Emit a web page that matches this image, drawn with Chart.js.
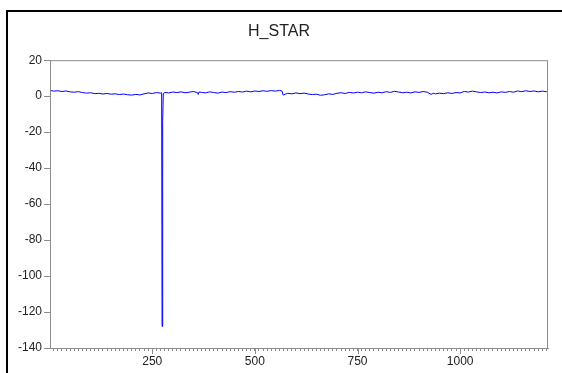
<!DOCTYPE html>
<html>
<head>
<meta charset="utf-8">
<script src="https://cdn.jsdelivr.net/npm/chart.js@4"></script>
<style>
  html, body { margin: 0; padding: 0; background: #fff; }
  #wrap { position: relative; width: 562px; height: 373px; overflow: hidden; }
  #frame { position: absolute; left: 6px; top: 10px; width: 600px; height: 400px;
           border-left: 2px solid #000; border-top: 2px solid #000; pointer-events: none; }
</style>
</head>
<body>
<div id="wrap">
  <canvas id="myChart"></canvas>
  <div id="frame"></div>
</div>
<script>
var obs = [1, 10, 20, 30, 40, 50, 60, 70, 80, 90, 100, 110, 120, 130, 140, 150, 160, 170, 180, 190,
    200, 210, 220, 230, 240, 250, 260, 270, 273, 274, 275, 276, 277, 280, 290, 300, 310, 320, 330, 340,
    350, 360, 362, 364, 370, 380, 390, 400, 410, 420, 430, 440, 450, 460, 470, 480, 490, 500, 510, 520,
    530, 540, 550, 560, 566, 569, 575, 580, 590, 600, 610, 620, 630, 640, 650, 660, 670, 680, 690, 700,
    710, 720, 730, 740, 750, 760, 770, 780, 790, 800, 810, 820, 830, 840, 850, 860, 870, 880, 890, 900,
    910, 920, 929, 935, 940, 950, 960, 970, 980, 990, 1000, 1010, 1020, 1030, 1040, 1050, 1060, 1070, 1080, 1090,
    1100, 1110, 1120, 1130, 1140, 1150, 1160, 1170, 1180, 1190, 1200, 1210, 1214];
var hStar = [3.2, 2.8, 3.0, 2.6, 2.9, 2.4, 2.2, 2.5, 2.0, 1.7, 1.9, 1.4, 1.6, 1.2, 1.5, 1.1, 1.3, 0.9, 1.2, 0.8,
    0.6, 1.0, 0.7, 1.3, 1.8, 1.5, 2.0, 1.7, 1.9, -128, -62, -14, 1.2, 2.1, 1.8, 2.3, 2.0, 2.4, 1.9, 2.2,
    2.6, 2.0, 1.0, 2.3, 2.1, 1.8, 2.4, 2.0, 1.7, 2.3, 2.0, 2.5, 2.2, 2.6, 2.3, 2.8, 2.4, 2.9, 2.6, 3.0,
    2.7, 3.1, 2.8, 3.2, 2.9, 0.6, 1.2, 1.6, 1.3, 1.8, 1.4, 1.7, 1.2, 0.9, 1.1, 0.5, 0.8, 1.3, 1.0, 1.6,
    1.9, 1.5, 2.1, 1.8, 2.2, 1.9, 2.4, 2.0, 1.7, 2.2, 1.9, 2.5, 2.1, 2.7, 2.3, 1.9, 2.2, 1.8, 2.4, 2.1,
    2.6, 2.2, 1.0, 1.6, 1.3, 1.7, 1.4, 1.9, 1.5, 2.0, 1.8, 2.6, 2.3, 2.8, 2.4, 2.0, 2.3, 1.9, 2.2, 1.8,
    2.4, 2.1, 2.6, 2.2, 2.9, 2.5, 3.0, 2.6, 2.9, 2.4, 2.8, 2.5, 2.7];

var yTicks = [-140, -120, -100, -80, -60, -40, -20, 0, 20];
var xTickLabels = [250, 500, 750, 1000];

var axisGray = '#8c8c8c';
var labelFont = { family: 'Liberation Sans, Arial, sans-serif', size: 12 };

var points = [];
for (var i = 0; i < obs.length; i++) {
    points.push({ x: obs[i], y: hStar[i] });
}

// box round the plot area and longer marks for labelled x ticks
var framePlugin = {
    id: 'plotFrame',
    afterDraw: function (chart) {
        var ctx = chart.ctx;
        var a = chart.chartArea;
        var xs = chart.scales.x;
        ctx.save();
        ctx.strokeStyle = axisGray;
        ctx.lineWidth = 1;
        ctx.strokeRect(a.left + 0.5, a.top + 0.5, a.right - a.left - 1, a.bottom - a.top);
        xTickLabels.forEach(function (v) {
            var px = Math.round(xs.getPixelForValue(v)) + 0.5;
            ctx.beginPath();
            ctx.moveTo(px, a.bottom);
            ctx.lineTo(px, a.bottom + 6);
            ctx.stroke();
        });
        ctx.restore();
    }
};

const config = {
    type: 'line',
    data: {
        datasets: [{
            label: 'H_STAR',
            data: points,
            borderColor: '#0000ff',
            borderWidth: 1,
            pointRadius: 0,
            tension: 0,
            fill: false
        }]
    },
    options: {
        responsive: true,
        maintainAspectRatio: false,
        animation: false,
        layout: { padding: { left: 10, right: 14, top: 0, bottom: 0 } },
        plugins: {
            legend: { display: false },
            tooltip: { enabled: false },
            title: {
                display: true,
                text: 'H_STAR',
                color: '#222',
                font: { family: 'Liberation Sans, Arial, sans-serif', size: 16, weight: 'normal' },
                padding: { top: 22, bottom: 19 }
            }
        },
        scales: {
            x: {
                type: 'linear',
                min: 1,
                max: 1214,
                afterBuildTicks: function (s) {
                    var t = [];
                    for (var v = 10; v <= 1210; v += 10) t.push({ value: v });
                    s.ticks = t;
                },
                afterFit: function (s) { s.height = 25; },
                border: { color: axisGray },
                grid: { drawOnChartArea: false, drawTicks: true, tickLength: 3, color: axisGray },
                ticks: {
                    autoSkip: false,
                    maxRotation: 0,
                    padding: 3,
                    color: '#222',
                    font: labelFont,
                    callback: function (v) { return xTickLabels.indexOf(v) >= 0 ? String(v) : ''; }
                }
            },
            y: {
                min: -140,
                max: 20,
                afterBuildTicks: function (s) {
                    s.ticks = yTicks.map(function (v) { return { value: v }; });
                },
                afterFit: function (s) { s.width = 40; },
                border: { color: axisGray },
                grid: { drawOnChartArea: false, drawTicks: true, tickLength: 6, color: axisGray },
                ticks: { padding: 2, color: '#222', font: labelFont }
            }
        }
    },
    plugins: [framePlugin]
};

var ctx = document.getElementById('myChart').getContext('2d');
var myChart = new Chart(ctx, config);
</script>
</body>
</html>
